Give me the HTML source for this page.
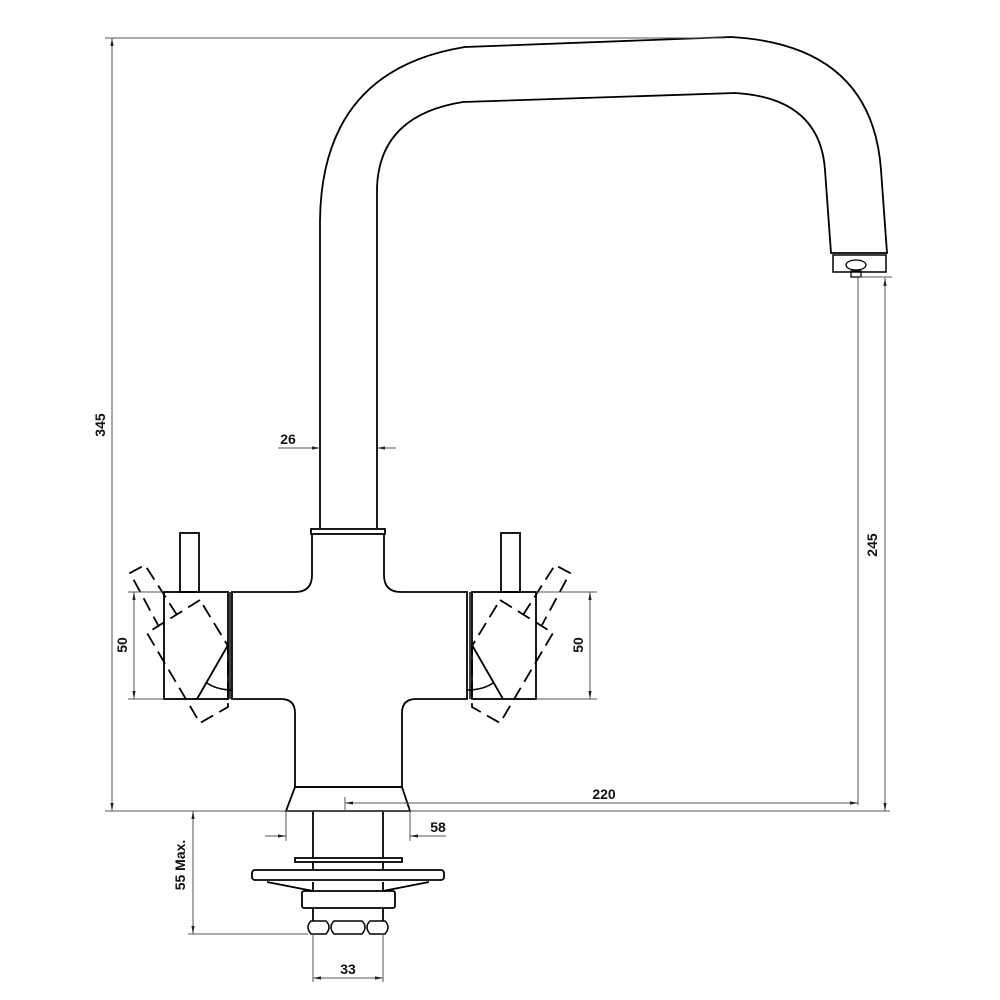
<!DOCTYPE html>
<html><head><meta charset="utf-8"><style>
html,body{margin:0;padding:0;background:#fff}
svg{display:block}
text{font-family:"Liberation Sans",Arial,sans-serif;font-size:14px;font-weight:bold;fill:#111}
</style></head><body>
<svg width="1000" height="1000" viewBox="0 0 1000 1000" xmlns="http://www.w3.org/2000/svg">
<defs>
<marker id="a" viewBox="0 0 10 10" refX="10" refY="5" markerWidth="8" markerHeight="8" orient="auto-start-reverse" markerUnits="userSpaceOnUse"><path d="M0,3 L10,5 L0,7 Z" fill="#222"/></marker>
</defs>
<g fill="none" stroke="#000" stroke-width="1.8">
<path d="M320,528 V220 Q322,70 465,47 L731,37 Q872,45 881,170 L887,253 H831 L825,170 Q820,98 735,93 L463,102 Q380,115 377,187 V528"/>
<rect x="833" y="255" width="53" height="17" stroke-width="1.5"/>
<ellipse cx="856" cy="265" rx="10" ry="5" stroke-width="1.3"/>
<rect x="851" y="271" width="10" height="6" stroke-width="1.3"/>
<rect x="311" y="529" width="74" height="5"/>
<path d="M312,534 V575 Q312,592 295,592 H232 V699 H281 Q295,699 295,713 V787 H402 V713 Q402,699 416,699 H467 V592 H401 Q384,592 384,575 V534"/>
<path d="M295,787 H402 L410,811 H286 Z"/>
<path d="M313,811 V858 M383,811 V858 M313,862 V870 M383,862 V870"/>
<rect x="295" y="858" width="107" height="4"/>
<rect x="252" y="870" width="192" height="10" rx="3"/>
<path d="M267,882 L313,891 V882 M429,882 L383,891 V882"/>
<rect x="302" y="891" width="93" height="17" rx="2"/>
<path d="M313,908 V921 M383,908 V921"/>
<g stroke-width="1.5">
<path d="M311,921 H326 Q332,927 326,934 H311 Q305,927 311,921 Z"/>
<path d="M334,921 H362 Q368,927 362,934 H334 Q328,927 334,921 Z"/>
<path d="M370,921 H385 Q391,927 385,934 H370 Q364,927 370,921 Z"/>
</g>
</g>
<g id="h" fill="none" stroke="#000" stroke-width="1.8">
<rect x="472" y="592" width="64" height="107"/>
<rect x="501" y="533" width="19" height="59"/>
<line x1="472" y1="645" x2="503" y2="699"/>
<path d="M467,690 Q483,690 493,683" stroke-width="1.5"/>
<line x1="470" y1="592" x2="470" y2="699" stroke-width="1.5"/>
<g stroke-dasharray="14,7" stroke-width="1.8">
<path d="M500,600 L553,633 L500,723 L472,707 V646 Z"/>
<path d="M523,615 L555,565 L570,573 L542,625"/>
</g>
</g>
<use href="#h" transform="translate(700,0) scale(-1,1)"/>
<g stroke="#555" stroke-width="1" fill="none">
<line x1="105" y1="38" x2="725" y2="38"/>
<line x1="105" y1="811" x2="890" y2="811"/>
<line x1="112" y1="38" x2="112" y2="811" marker-start="url(#a)" marker-end="url(#a)"/>
<line x1="885" y1="278" x2="885" y2="811" marker-start="url(#a)" marker-end="url(#a)"/>
<line x1="860" y1="277" x2="892" y2="277"/>
<line x1="858" y1="278" x2="858" y2="805"/>
<line x1="345" y1="797" x2="345" y2="811"/>
<line x1="345" y1="803" x2="858" y2="803" marker-start="url(#a)" marker-end="url(#a)"/>
<line x1="278" y1="448" x2="320" y2="448" marker-end="url(#a)"/>
<line x1="396" y1="448" x2="377" y2="448" marker-end="url(#a)"/>
<line x1="128" y1="592" x2="163" y2="592"/><line x1="128" y1="699" x2="163" y2="699"/>
<line x1="134" y1="592" x2="134" y2="699" marker-start="url(#a)" marker-end="url(#a)"/>
<line x1="536" y1="592" x2="597" y2="592"/><line x1="536" y1="699" x2="597" y2="699"/>
<line x1="590" y1="592" x2="590" y2="699" marker-start="url(#a)" marker-end="url(#a)"/>
<line x1="286" y1="811" x2="286" y2="841"/><line x1="410" y1="811" x2="410" y2="841"/>
<line x1="265" y1="836" x2="286" y2="836" marker-end="url(#a)"/>
<line x1="446" y1="836" x2="410" y2="836" marker-end="url(#a)"/>
<line x1="193" y1="811" x2="193" y2="934" marker-start="url(#a)" marker-end="url(#a)"/>
<line x1="188" y1="934" x2="308" y2="934"/>
<line x1="313" y1="934" x2="313" y2="982"/><line x1="383" y1="934" x2="383" y2="982"/>
<line x1="313" y1="978" x2="383" y2="978" marker-start="url(#a)" marker-end="url(#a)"/>
</g>
<text x="105" y="425" text-anchor="middle" transform="rotate(-90 105 425)">345</text>
<text x="877" y="545" text-anchor="middle" transform="rotate(-90 877 545)">245</text>
<text x="288" y="444" text-anchor="middle">26</text>
<text x="127" y="645" text-anchor="middle" transform="rotate(-90 127 645)">50</text>
<text x="583" y="645" text-anchor="middle" transform="rotate(-90 583 645)">50</text>
<text x="604" y="799" text-anchor="middle">220</text>
<text x="438" y="832" text-anchor="middle">58</text>
<text x="185" y="865" text-anchor="middle" transform="rotate(-90 185 865)">55 Max.</text>
<text x="348" y="974" text-anchor="middle">33</text>
</svg>
</body></html>
